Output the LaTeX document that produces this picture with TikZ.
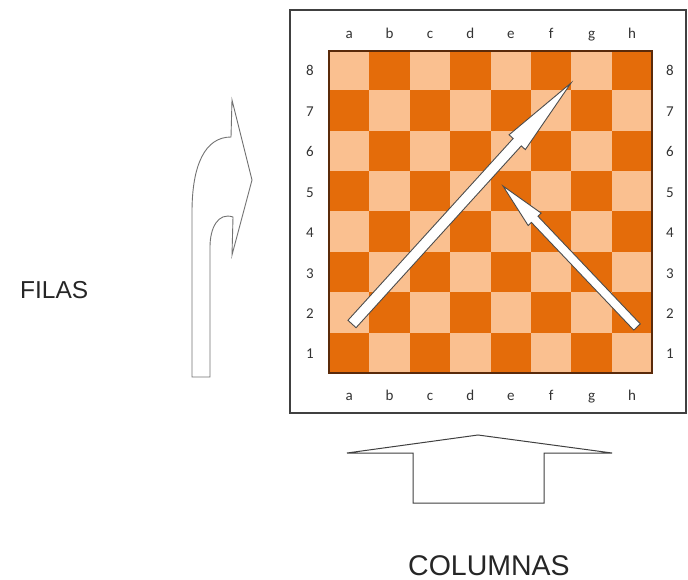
\documentclass[tikz,border=0pt]{standalone}
\usepackage{fontspec}
\setmainfont{Liberation Sans}
\newfontfamily\calibri{Carlito}
\usetikzlibrary{calc}

\definecolor{claro}{HTML}{FAC090}
\definecolor{oscuro}{HTML}{E46C0A}
\definecolor{borde}{HTML}{5A2A0A}

\tikzset{
  etiqueta/.style={font=\calibri\fontsize{15}{15}\selectfont, text=black!80, inner sep=0pt, anchor=base},
  contorno/.style={draw=black!75, line width=1.2pt},
  flecha/.style={draw=black!70, fill=white, line width=0.9pt, line join=miter},
  titulo/.style={anchor=base west, inner sep=0pt, text=black!85},
}

% white arrow: tail, tip, shaft half width, head length, head half width
\newcommand{\flechablanca}[5]{%
  \coordinate (hb) at ($(#2)!#4!(#1)$);
  \draw[flecha] ($(#1)!#3!90:(#2)$) -- ($(hb)!#3!-90:(#1)$) -- ($(hb)!#5!-90:(#1)$)
    -- (#2) -- ($(hb)!#5!90:(#1)$) -- ($(hb)!#3!90:(#1)$) -- ($(#1)!#3!-90:(#2)$) -- cycle;
}

\begin{document}
\begin{tikzpicture}[x=1pt, y=-1pt]
    \useasboundingbox (0,0) rectangle (688,580);

    % Outer frame
    \draw[contorno] (290,10) rectangle (686,413);

    % Board squares
    \foreach \c in {0,...,7} {
      \foreach \f in {1,...,8} {
        \pgfmathtruncatemacro{\s}{\c+\f}
        \ifodd\s \def\tono{oscuro}\else\def\tono{claro}\fi
        \fill[\tono] (329+40.4*\c, 373-40.4*\f) rectangle ++(40.4,40.4);
      }
    }
    \draw[borde, line width=1.5pt] (329,51) rectangle (652.2,373);

    % Column letters
    \foreach \l [count=\k from 0] in {a,...,h} {
      \node[etiqueta] (arriba-\l) at (349.2+40.4*\k, 38.5) {\l};
      \node[etiqueta] (abajo-\l) at (349.2+40.4*\k, 400.5) {\l};
    }
    % Row numbers
    \foreach \f in {1,...,8} {
      \node[etiqueta] (izq-\f) at (310, 399.2-40.4*\f) {\f};
      \node[etiqueta] (der-\f) at (670, 399.2-40.4*\f) {\f};
    }

    % Moves on the board
    \coordinate (colaA) at (352,324);
    \coordinate (puntaA) at (571,83);
    \flechablanca{colaA}{puntaA}{5.5pt}{80pt}{11pt}
    \coordinate (colaB) at (637,327);
    \coordinate (puntaB) at (503,186);
    \flechablanca{colaB}{puntaB}{4.5pt}{46pt}{9pt}

    % Curved arrow for the rows
    \draw[flecha, draw=black!55] (192,377) -- (192,212)
      .. controls (192,165) and (205,137) .. (231,137) -- (232,100) -- (252,180)
      -- (232,255) -- (233,217) .. controls (218,212) and (210,228) .. (210,247)
      -- (210,377) -- cycle;

    % Arrow for the columns
    \draw[flecha, draw=black!75, line width=1pt] (347,453) -- (478,435) -- (612,453)
      -- (544,453) -- (544,503) -- (413,503) -- (413,453) -- cycle;

    % Titles
    \node[titulo, font=\fontsize{24.5}{24.5}\selectfont] (filas) at (20,298) {FILAS};
    \node[titulo, font=\fontsize{28.5}{28.5}\selectfont] (columnas) at (408,575.5) {COLUMNAS};
\end{tikzpicture}
\end{document}
